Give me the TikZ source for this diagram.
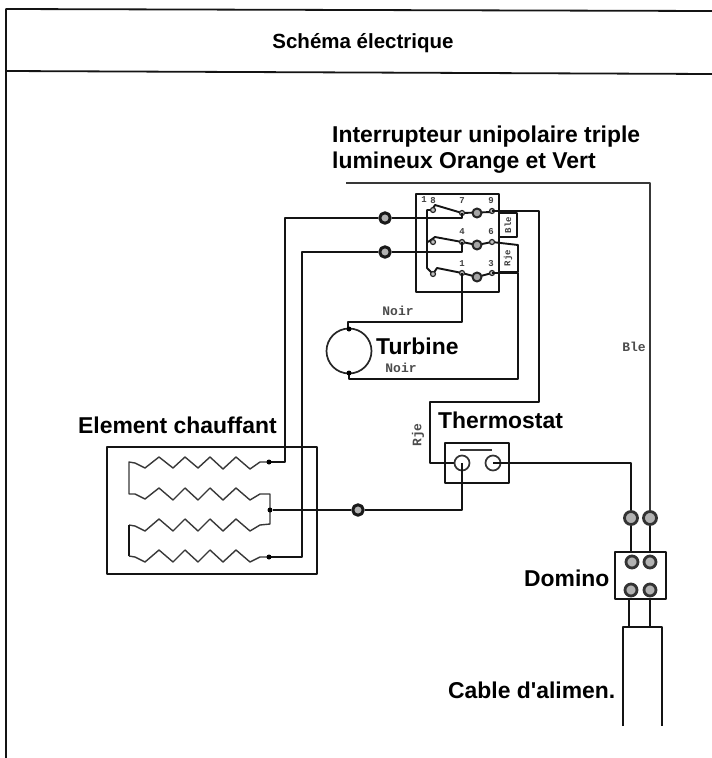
\documentclass[tikz,border=0pt]{standalone}
\usepackage{fontspec}
\setmainfont{Liberation Sans}
\newfontfamily\plainf{Liberation Sans}
\newfontfamily\monof{Liberation Mono}
\begin{document}
\begin{tikzpicture}[x=1pt,y=-1pt,line join=round,
  wire/.style={line width=1.9pt,black!92},
  thin wire/.style={line width=1.4pt,black!78},
  box/.style={line width=1.8pt,black!92},
  lbl/.style={font=\plainf\bfseries\fontsize{22.9}{26}\selectfont,inner sep=0pt,anchor=west},
  tiny/.style={font=\monof\bfseries\fontsize{13}{13}\selectfont,inner sep=0pt,black!70},
  micro/.style={font=\monof\bfseries\fontsize{9}{9}\selectfont,inner sep=0pt,black!75},
  conn/.style={circle,draw=black!90,line width=3pt,fill=black!30,minimum size=10.5pt,inner sep=0pt},
  dot/.style={circle,fill=black,minimum size=5pt,inner sep=0pt},
  swc/.style={circle,draw=black!85,line width=2pt,fill=black!35,minimum size=9pt,inner sep=0pt},
  swt/.style={circle,draw=black!85,line width=1.2pt,fill=black!25,minimum size=5pt,inner sep=0pt},
  term/.style={circle,draw=black!80,line width=2.8pt,fill=black!30,minimum size=12pt,inner sep=0pt},
  ring/.style={circle,draw=black!80,line width=1.7pt,minimum size=15pt,inner sep=0pt}]
\useasboundingbox (0,0) rectangle (712,758);
\fill[white] (0,0) rectangle (712,758);
% frame
\draw[box] (6,758) -- (6,9) -- (712,11);
\draw[box] (6,71) -- (712,74);
\node[font=\plainf\bfseries\fontsize{20.5}{24}\selectfont,inner sep=0pt] (title) at (363,43) {Schéma électrique};
% labels
\node[lbl] (t1) at (332,137) {Interrupteur unipolaire triple};
\node[lbl] (t2) at (332,163) {lumineux Orange et Vert};
\node[lbl] (t3) at (376,346) {Turbine};
\node[lbl] (t4) at (78,425) {Element chauffant};
\node[lbl] (t5) at (438,420) {Thermostat};
\node[lbl] (t6) at (524,578) {Domino};
\node[lbl] (t7) at (448,690) {Cable d'alimen.};
% switch box
\draw[box] (416,194) rectangle (499,292);
\draw[wire] (499,213) -- (517,213) -- (517,237) -- (499,237);
\draw[wire] (492,242) -- (518,245) -- (518,272) -- (499,272);
\node[micro,rotate=90] (s1) at (508,225) {Ble};
\node[micro,rotate=90] (s2) at (508,258) {Rje};
\foreach \x/\y/\t in {424/200/1,433/201/8,462/201/7,491/201/9,462/232/4,491/232/6,462/264/1,491/264/3}
  \node[micro] at (\x,\y) {\t};
% switch wiring
\draw[wire] (433,210) -- (427,210) -- (427,268) -- (433,274);
\draw[wire] (432,210) -- (435,205) -- (462,213);
\draw[wire] (428,242) -- (435,237) -- (462,242);
\draw[wire] (433,274) -- (437,268) -- (462,273);
\draw[wire] (462,213) -- (492,212);
\draw[wire] (462,242) -- (477,245) -- (492,242);
\draw[wire] (462,273) -- (477,277) -- (492,273);
\node[swc] (ta) at (477,213) {};
\node[swc] (tb) at (477,245) {};
\node[swc] (tc) at (477,277) {};
\foreach \x/\y in {433/210,433/242,433/274,462/213,462/242,462/273,492/211,492/242,492/273}
  \node[swt] at (\x,\y) {};
% connectors on the left
\node[conn] (c1) at (385,218) {};
\node[conn] (c2) at (385,252) {};
\draw[wire] (270,462) -- (285,462) -- (285,218) -- (c1);
\draw[wire] (c1) -- (462,218) -- (462,213);
\draw[wire] (270,557) -- (302,557) -- (302,252) -- (c2);
\draw[wire] (c2) -- (462,252) -- (462,242);
% right side switch wires
\draw[wire] (492,211) -- (539,211) -- (539,402) -- (430,402) -- (430,463) -- (455,463);
\draw[wire] (492,273) -- (518,273) -- (518,379) -- (349,379) -- (349,372);
\draw[wire] (462,273) -- (462,322) -- (348,322) -- (348,330);
\draw[thin wire] (346,183) -- (650,183) -- (650,516);
% turbine
\node[circle,draw=black!85,line width=1.7pt,minimum size=45pt,inner sep=0pt] (turb) at (349,351) {};
\node[dot] at (349,329) {}; \node[dot] at (349,373) {};
\node[tiny] (n1) at (398,311) {Noir};
\node[tiny] (n2) at (401,368) {Noir};
\node[tiny,rotate=90] (rje) at (418,435) {Rje};
\node[tiny] (ble) at (634,347) {Ble};
% thermostat
\draw[box] (445,443) rectangle (509,483);
\draw[thin wire] (460,450) -- (492,450);
\node[ring] (th1) at (462,463) {};
\node[ring] (th2) at (493,463) {};
\draw[wire] (th2.center) -- (631,463) -- (631,516);
% element
\draw[box] (107,447) rectangle (317,574);
\draw[thin wire] (270,462) -- (260,462) -- (250,469) -- (236,457) -- (223,469) -- (210,457) -- (198,468) -- (185,457) -- (173,468) -- (159,457) -- (145,468) -- (135,463) -- (129,462) -- (129,494)
  -- (135,494) -- (145,499) -- (159,488) -- (173,500) -- (185,488) -- (198,500) -- (210,488) -- (223,500) -- (236,488) -- (250,500) -- (260,494) -- (270,494) -- (270,524)
  -- (260,525) -- (250,531) -- (236,519) -- (223,531) -- (210,519) -- (198,531) -- (185,519) -- (173,531) -- (159,519) -- (145,531) -- (135,526) -- (129,525);
\draw[wire] (129,525) -- (129,556);
\draw[thin wire] (129,556) -- (135,557) -- (145,562) -- (159,550) -- (173,562) -- (185,550) -- (198,562) -- (210,550) -- (223,562) -- (236,550) -- (250,562) -- (260,557) -- (270,557);
\node[dot] at (269,462) {}; \node[dot] (dm) at (270,510) {}; \node[dot] at (269,557) {};
\node[conn] (c3) at (358,510) {};
\draw[wire] (dm) -- (c3);
\draw[wire] (c3) -- (462,510) -- (th1.center);
% domino
\node[term,minimum size=13pt] (d1) at (631,518) {};
\node[term,minimum size=13pt] (d2) at (650,518) {};
\draw[box] (615,552) rectangle (666,599);
\node[term] (d3) at (632,562) {};
\node[term] (d4) at (650,562) {};
\node[term] (d5) at (631,590) {};
\node[term] (d6) at (650,590) {};
\draw[wire] (d1) -- (631,552);
\draw[wire] (d2) -- (650,552);
\draw[wire] (629,599) -- (629,627);
\draw[wire] (650,599) -- (650,627);
\draw[box] (623,726) -- (623,627) -- (662,627) -- (662,726);
\end{tikzpicture}
\end{document}
